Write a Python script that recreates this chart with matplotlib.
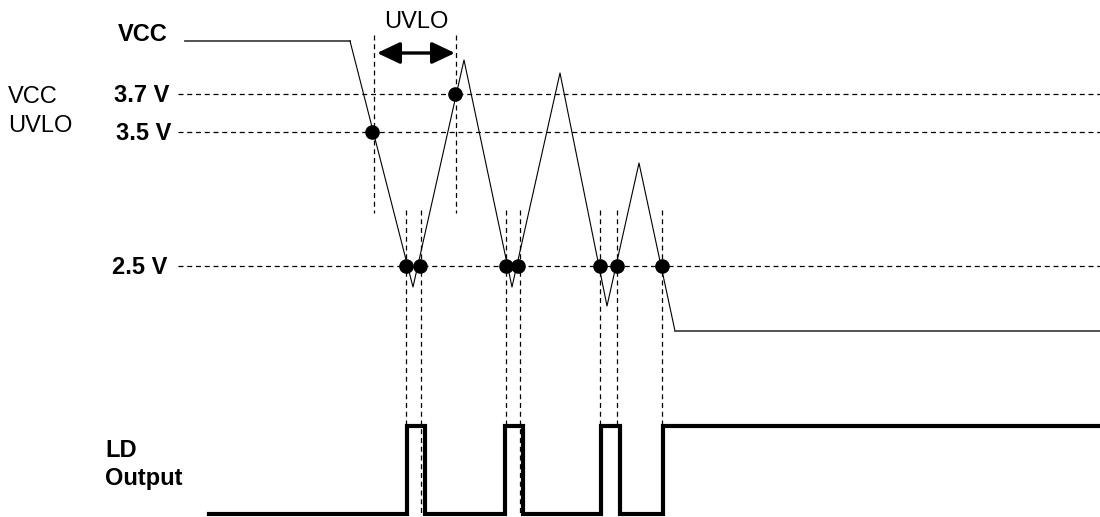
import matplotlib
matplotlib.use('Agg')
from matplotlib import pyplot as plt

plt.rcParams['font.family'] = ['Liberation Sans', 'DejaVu Sans']

# Timing diagram, drawn in a pixel-like time / level frame (y grows downward)
level_names = ['3.7 V', '3.5 V', '2.5 V']
level_y = [94, 132, 266]

# VCC waveform vertices (time, level)
vcc_t = [350, 413, 464, 512, 560, 607, 639, 675]
vcc_y = [41, 287, 60, 287, 73, 306, 163, 331]
vcc_start = 185
vcc_end = 1100

# threshold crossings (dots)
dot_t = [372, 455, 406, 420, 506, 518, 600, 617, 662]
dot_y = [132, 94, 266, 266, 266, 266, 266, 266, 266]

# UVLO window markers
uvlo_t = [374, 456]
# 2.5 V crossing markers, going down to the LD output
cross_t = [406, 421, 506, 520, 600, 617, 662]
cross_long = [False, True, False, True, False, False, False]

# LD output edges (steps-post), 0 = low, 1 = high
ld_t = [209, 407, 425, 505, 523, 601, 620, 663, 1100]
ld_state = [0, 1, 0, 1, 0, 1, 0, 1, 1]
ld_low = 514
ld_high = 426

fig = plt.figure(figsize=(11, 5.17), dpi=100)
ax = fig.add_axes([0, 0, 1, 1])
ax.set_xlim(0, 1100)
ax.set_ylim(517, 0)
ax.axis('off')

dash = (0, (4, 3))

# threshold lines
for y in level_y:
    ax.plot([178, 1100], [y, y], color='black', lw=0.9, linestyle=dash)

# vertical marker lines
for t in uvlo_t:
    ax.plot([t, t], [35, 213], color='black', lw=0.9, linestyle=dash)
for t, lng in zip(cross_t, cross_long):
    ax.plot([t, t], [210, 513 if lng else 425], color='black', lw=0.9, linestyle=dash)

# VCC waveform
ax.plot([vcc_start, vcc_t[0]], [vcc_y[0], vcc_y[0]], color='#444444', lw=1.3)
ax.plot(vcc_t, vcc_y, color='black', lw=0.8)
ax.plot([vcc_t[-1], vcc_end], [vcc_y[-1], vcc_y[-1]], color='#444444', lw=1.3)

ax.plot(dot_t, dot_y, 'o', color='black', markersize=9.5)

# LD output
ld_y = [ld_high if s else ld_low for s in ld_state]
ax.plot(ld_t, ld_y, drawstyle='steps-post', color='black', lw=3,
        solid_joinstyle='miter')

# UVLO arrow
ax.annotate('', xy=(455, 53), xytext=(377, 53),
            arrowprops=dict(arrowstyle='<|-|>,head_length=0.7,head_width=0.33',
                            color='black', lw=2.4, mutation_scale=20,
                            shrinkA=0, shrinkB=0))

fs = 17
ax.text(384, 28, 'UVLO', fontsize=fs, va='baseline')
ax.text(118, 41, 'VCC', fontsize=fs, fontweight='bold', va='baseline')
ax.text(8, 103, 'VCC', fontsize=fs, va='baseline')
ax.text(8, 132, 'UVLO', fontsize=fs, va='baseline')
label_x = [114, 116, 112]
for name, y, x in zip(level_names, level_y, label_x):
    ax.text(x, y + 8, name, fontsize=fs, fontweight='bold', va='baseline')
ax.text(105, 457, 'LD', fontsize=fs, fontweight='bold', va='baseline')
ax.text(105, 485, 'Output', fontsize=fs, fontweight='bold', va='baseline')

fig.savefig('out.png', dpi=100)
